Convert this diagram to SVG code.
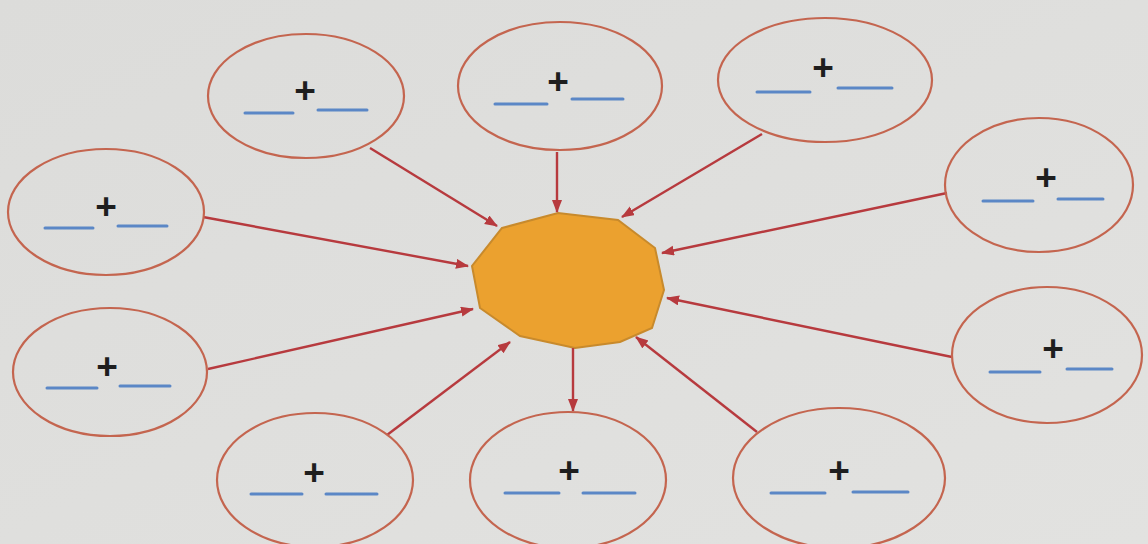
<svg xmlns="http://www.w3.org/2000/svg" width="1148" height="544" viewBox="0 0 1148 544">
<defs>
<marker id="ah" markerUnits="userSpaceOnUse" markerWidth="14" markerHeight="12" refX="12" refY="5" orient="auto">
<path d="M0,0 L13,5 L0,10 z" fill="#b73a3e"/>
</marker>
<linearGradient id="bg" x1="0" y1="0" x2="1" y2="1">
<stop offset="0" stop-color="#dcdcda"/>
<stop offset="1" stop-color="#e2e2e0"/>
</linearGradient>
</defs>
<style>
.el{fill:none;stroke:#c4654f;stroke-width:2.2}
.pl{font-family:"Liberation Sans",Arial,sans-serif;font-weight:bold;font-size:37px;fill:#1e1e1e;text-anchor:middle}
.bl{stroke:#5b87c6;stroke-width:3;stroke-linecap:round}
.ar{stroke:#b73a3e;stroke-width:2.4;fill:none;marker-end:url(#ah)}
</style>
<rect x="0" y="0" width="1148" height="544" fill="url(#bg)"/>
<g id="center">
<polygon points="502,228 558,213 618,220 655,248 664,290 652,328 620,342 575,348 520,336 480,308 472,266" fill="#eba12f" stroke="#c88a2c" stroke-width="2"/>
</g>
<g id="connectors">
<line class="ar" x1="370" y1="148" x2="497" y2="226"/>
<line class="ar" x1="557" y1="152" x2="557" y2="212"/>
<line class="ar" x1="762" y1="134" x2="622" y2="217"/>
<line class="ar" x1="947" y1="193" x2="662" y2="253"/>
<line class="ar" x1="952" y1="357" x2="667" y2="298"/>
<line class="ar" x1="757" y1="432" x2="636" y2="337"/>
<line class="ar" x1="573" y1="348" x2="573" y2="411"/>
<line class="ar" x1="387" y1="435" x2="510" y2="342"/>
<line class="ar" x1="208" y1="369" x2="473" y2="309"/>
<line class="ar" x1="203" y1="217" x2="468" y2="266"/>
</g>
<g id="n1"><ellipse class="el" cx="306" cy="96" rx="98" ry="62"/><text class="pl" x="305" y="103">+</text><line class="bl" x1="245" y1="113" x2="293" y2="113"/><line class="bl" x1="318" y1="110" x2="367" y2="110"/></g>
<g id="n2"><ellipse class="el" cx="560" cy="86" rx="102" ry="64"/><text class="pl" x="558" y="94">+</text><line class="bl" x1="495" y1="104" x2="547" y2="104"/><line class="bl" x1="572" y1="99" x2="623" y2="99"/></g>
<g id="n3"><ellipse class="el" cx="825" cy="80" rx="107" ry="62"/><text class="pl" x="823" y="80">+</text><line class="bl" x1="757" y1="92" x2="810" y2="92"/><line class="bl" x1="838" y1="88" x2="892" y2="88"/></g>
<g id="n4"><ellipse class="el" cx="1039" cy="185" rx="94" ry="67"/><text class="pl" x="1046" y="190">+</text><line class="bl" x1="983" y1="201" x2="1033" y2="201"/><line class="bl" x1="1058" y1="199" x2="1103" y2="199"/></g>
<g id="n5"><ellipse class="el" cx="1047" cy="355" rx="95" ry="68"/><text class="pl" x="1053" y="361">+</text><line class="bl" x1="990" y1="372" x2="1040" y2="372"/><line class="bl" x1="1067" y1="369" x2="1112" y2="369"/></g>
<g id="n6"><ellipse class="el" cx="839" cy="478" rx="106" ry="70"/><text class="pl" x="839" y="483">+</text><line class="bl" x1="771" y1="493" x2="825" y2="493"/><line class="bl" x1="853" y1="492" x2="908" y2="492"/></g>
<g id="n7"><ellipse class="el" cx="568" cy="480" rx="98" ry="68"/><text class="pl" x="569" y="483">+</text><line class="bl" x1="505" y1="493" x2="559" y2="493"/><line class="bl" x1="583" y1="493" x2="635" y2="493"/></g>
<g id="n8"><ellipse class="el" cx="315" cy="480" rx="98" ry="67"/><text class="pl" x="314" y="485">+</text><line class="bl" x1="251" y1="494" x2="302" y2="494"/><line class="bl" x1="326" y1="494" x2="377" y2="494"/></g>
<g id="n9"><ellipse class="el" cx="110" cy="372" rx="97" ry="64"/><text class="pl" x="107" y="379">+</text><line class="bl" x1="47" y1="388" x2="97" y2="388"/><line class="bl" x1="120" y1="386" x2="170" y2="386"/></g>
<g id="n10"><ellipse class="el" cx="106" cy="212" rx="98" ry="63"/><text class="pl" x="106" y="219">+</text><line class="bl" x1="45" y1="228" x2="93" y2="228"/><line class="bl" x1="118" y1="226" x2="167" y2="226"/></g>
</svg>
